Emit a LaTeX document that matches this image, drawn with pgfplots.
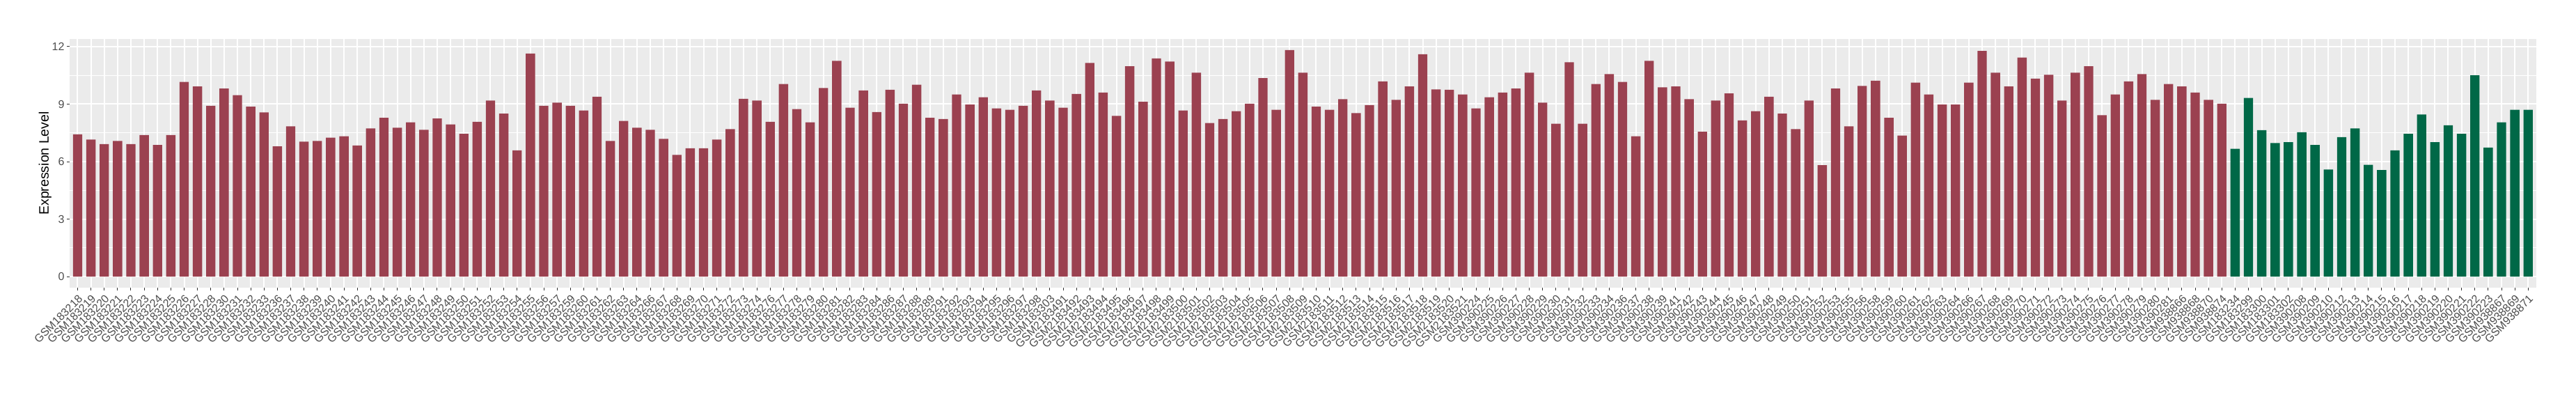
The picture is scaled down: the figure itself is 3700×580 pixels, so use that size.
\documentclass[border=0pt]{standalone}
\usepackage{fontspec}
\setmainfont{Liberation Sans}
\usepackage{pgfplots}
\usepackage{pgfplotstable}
\pgfplotsset{compat=1.18}
\definecolor{redbar}{HTML}{9B4150}
\definecolor{greenbar}{HTML}{006847}
\definecolor{panelbg}{HTML}{EBEBEB}
\definecolor{tickgrey}{HTML}{333333}
\definecolor{labgrey}{HTML}{4D4D4D}

\pgfplotstableread{
x y
0 7.42
1 7.15
2 6.91
3 7.08
4 6.91
5 7.39
6 6.87
7 7.39
8 10.16
9 9.92
10 8.91
11 9.81
12 9.47
13 8.87
14 8.57
15 6.80
16 7.84
17 7.04
18 7.08
19 7.25
20 7.32
21 6.84
22 7.73
23 8.29
24 7.77
25 8.05
26 7.66
27 8.25
28 7.94
29 7.45
30 8.08
31 9.19
32 8.50
33 6.59
34 11.64
35 8.91
36 9.08
37 8.91
38 8.67
39 9.39
40 7.08
41 8.12
42 7.77
43 7.66
44 7.19
45 6.35
46 6.70
47 6.70
48 7.15
49 7.70
50 9.28
51 9.19
52 8.08
53 10.05
54 8.74
55 8.05
56 9.84
57 11.26
58 8.81
59 9.71
60 8.59
61 9.75
62 9.02
63 10.01
64 8.29
65 8.22
66 9.50
67 8.98
68 9.36
69 8.78
70 8.70
71 8.91
72 9.71
73 9.19
74 8.81
75 9.53
76 11.15
77 9.60
78 8.39
79 10.98
80 9.12
81 11.39
82 11.22
83 8.67
84 10.64
85 8.01
86 8.22
87 8.63
88 9.02
89 10.36
90 8.70
91 11.82
92 10.64
93 8.87
94 8.70
95 9.26
96 8.53
97 8.95
98 10.19
99 9.22
100 9.92
101 11.60
102 9.77
103 9.75
104 9.50
105 8.78
106 9.36
107 9.60
108 9.81
109 10.64
110 9.08
111 7.98
112 11.19
113 7.98
114 10.05
115 10.57
116 10.16
117 7.32
118 11.26
119 9.88
120 9.92
121 9.26
122 7.56
123 9.19
124 9.56
125 8.15
126 8.63
127 9.39
128 8.50
129 7.70
130 9.19
131 5.81
132 9.81
133 7.84
134 9.95
135 10.22
136 8.29
137 7.36
138 10.12
139 9.50
140 8.98
141 8.98
142 10.12
143 11.78
144 10.64
145 9.92
146 11.43
147 10.33
148 10.53
149 9.19
150 10.64
151 10.98
152 8.42
153 9.50
154 10.19
155 10.57
156 9.22
157 10.05
158 9.92
159 9.60
160 9.22
161 9.02
}\redtable

\pgfplotstableread{
x y
162 6.67
163 9.32
164 7.64
165 6.97
166 7.01
167 7.53
168 6.87
169 5.59
170 7.28
171 7.73
172 5.83
173 5.56
174 6.59
175 7.45
176 8.46
177 7.01
178 7.90
179 7.45
180 10.50
181 6.73
182 8.05
183 8.70
184 8.70
}\greentable

\begin{document}
\begin{tikzpicture}
\begin{axis}[
  at={(100pt,166.7pt)}, anchor=south west,
  scale only axis, width=3542.7pt, height=357.6pt,
  xmin=-0.6, xmax=184.6, ymin=-0.59, ymax=12.41,
  axis background/.style={fill=panelbg},
  axis line style={draw=none},
  ybar, bar width=0.7, /pgf/bar shift=0pt,
  xtick pos=bottom, ytick pos=left,
  xtick={0,...,184},
  xticklabels={GSM183218,GSM183219,GSM183220,GSM183221,GSM183222,GSM183223,GSM183224,GSM183225,GSM183226,GSM183227,GSM183228,GSM183230,GSM183231,GSM183232,GSM183233,GSM183236,GSM183237,GSM183238,GSM183239,GSM183240,GSM183241,GSM183242,GSM183243,GSM183244,GSM183245,GSM183246,GSM183247,GSM183248,GSM183249,GSM183250,GSM183251,GSM183252,GSM183253,GSM183254,GSM183255,GSM183256,GSM183257,GSM183259,GSM183260,GSM183261,GSM183262,GSM183263,GSM183264,GSM183266,GSM183267,GSM183268,GSM183269,GSM183270,GSM183271,GSM183272,GSM183273,GSM183274,GSM183276,GSM183277,GSM183278,GSM183279,GSM183280,GSM183281,GSM183282,GSM183283,GSM183284,GSM183286,GSM183287,GSM183288,GSM183289,GSM183291,GSM183292,GSM183293,GSM183294,GSM183295,GSM183296,GSM183297,GSM183298,GSM183303,GSM2183491,GSM2183492,GSM2183493,GSM2183494,GSM2183495,GSM2183496,GSM2183497,GSM2183498,GSM2183499,GSM2183500,GSM2183501,GSM2183502,GSM2183503,GSM2183504,GSM2183505,GSM2183506,GSM2183507,GSM2183508,GSM2183509,GSM2183510,GSM2183511,GSM2183512,GSM2183513,GSM2183514,GSM2183515,GSM2183516,GSM2183517,GSM2183518,GSM2183519,GSM2183520,GSM2183521,GSM390224,GSM390225,GSM390226,GSM390227,GSM390228,GSM390229,GSM390230,GSM390231,GSM390232,GSM390233,GSM390234,GSM390236,GSM390237,GSM390238,GSM390239,GSM390241,GSM390242,GSM390243,GSM390244,GSM390245,GSM390246,GSM390247,GSM390248,GSM390249,GSM390250,GSM390251,GSM390252,GSM390253,GSM390255,GSM390256,GSM390258,GSM390259,GSM390260,GSM390261,GSM390262,GSM390263,GSM390264,GSM390266,GSM390267,GSM390268,GSM390269,GSM390270,GSM390271,GSM390272,GSM390273,GSM390274,GSM390275,GSM390276,GSM390277,GSM390278,GSM390279,GSM390280,GSM390281,GSM938866,GSM938868,GSM938870,GSM938874,GSM183234,GSM183299,GSM183300,GSM183301,GSM183302,GSM390208,GSM390209,GSM390210,GSM390212,GSM390213,GSM390214,GSM390215,GSM390216,GSM390217,GSM390218,GSM390219,GSM390220,GSM390221,GSM390222,GSM390223,GSM938867,GSM938869,GSM938871},
  ytick={0,3,6,9,12},
  minor ytick={1.5,4.5,7.5,10.5},
  grid=both,
  major grid style={white, line width=2pt},
  minor grid style={white, line width=1pt},
  tick align=outside,
  major tick length=4pt, minor tick length=0pt,
  tick style={tickgrey, line width=1pt},
  /pgf/number format/assume math mode=true,
  xticklabel style={rotate=45, anchor=north east, font=\fontsize{16}{18}\selectfont, text=labgrey},
  yticklabel style={font=\fontsize{16}{18}\selectfont, text=labgrey},
  ylabel={Expression Level},
  every axis y label/.style={at={(axis description cs:-0.0099,0.5)}, rotate=90, anchor=center, font=\fontsize{19.5}{22}\selectfont},
]
\addplot[fill=redbar, draw=none] table[x=x, y=y] {\redtable};
\addplot[fill=greenbar, draw=none] table[x=x, y=y] {\greentable};
\end{axis}
\pgfresetboundingbox
\path[use as bounding box] (0,0) rectangle (3700pt,580pt);
\end{tikzpicture}
\end{document}
